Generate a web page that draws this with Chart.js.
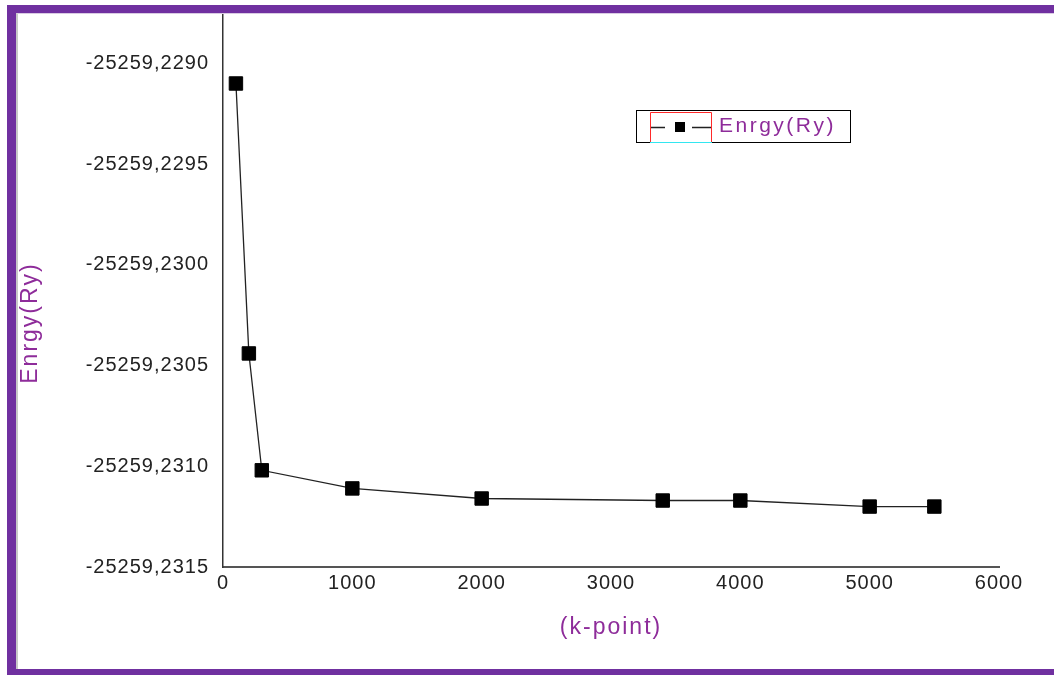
<!DOCTYPE html>
<html>
<head>
<meta charset="utf-8">
<script src="https://cdn.jsdelivr.net/npm/chart.js@4"></script>
<style>
html,body{margin:0;padding:0;background:#fff;}
#wrap{position:relative;width:1054px;height:675px;overflow:hidden;background:#fff;}
#c{position:absolute;left:0;top:0;}
.frame{position:absolute;left:7px;top:5px;width:1100px;height:670px;box-sizing:border-box;border-left:9px solid #7030a0;border-top:8px solid #7030a0;border-bottom:6px solid #7030a0;pointer-events:none;}
.inner{position:absolute;left:16px;top:13px;width:1100px;height:656px;box-sizing:border-box;border-left:2px solid #c8c8c8;border-top:1px solid #d9cbe3;pointer-events:none;}
</style>
</head>
<body>
<div id="wrap">
<canvas id="c" width="1054" height="675"></canvas>
<div class="frame"></div>
<div class="inner"></div>
</div>
<script>
// ---- data ----
const kPoints = [100, 200, 300, 1000, 2000, 3400, 4000, 5000, 5500];
const energies = [-25259.2291, -25259.23044, -25259.23102, -25259.23111, -25259.23116, -25259.23117, -25259.23117, -25259.2312, -25259.2312];
const xTicks = [0, 1000, 2000, 3000, 4000, 5000, 6000];
const yTicks = [-25259.2290, -25259.2295, -25259.2300, -25259.2305, -25259.2310, -25259.2315];
const seriesLabel = 'Enrgy(Ry)';
const xTitle = '(k-point)';
const yTitle = 'Enrgy(Ry)';

const PURPLE = '#8e2c9a';
const FONT = '"Liberation Sans", Arial, sans-serif';

const deco = {
  id: 'deco',
  beforeDraw(chart) {
    chart.ctx.letterSpacing = '1px';
  },
  afterDraw(chart) {
    const ctx = chart.ctx;
    const a = chart.chartArea;
    // axis titles
    ctx.save();
    ctx.letterSpacing = '2px';
    ctx.fillStyle = PURPLE;
    ctx.font = '23px ' + FONT;
    ctx.textAlign = 'center';
    ctx.textBaseline = 'middle';
    ctx.fillText(xTitle, (a.left + a.right) / 2, a.bottom + 61);
    ctx.translate(31, a.top + 308);
    ctx.rotate(-Math.PI / 2);
    ctx.fillText(yTitle, 0, 0);
    ctx.restore();

    // legend
    const ds = chart.data.datasets[0];
    ctx.save();
    ctx.letterSpacing = '0px';
    ctx.lineWidth = 1;
    ctx.strokeStyle = '#000';
    ctx.strokeRect(636.5, 110.5, 214, 32);
    ctx.strokeStyle = '#ff2a2a';
    ctx.beginPath();
    ctx.moveTo(650.5, 142); ctx.lineTo(650.5, 112.5); ctx.lineTo(711.5, 112.5); ctx.lineTo(711.5, 142);
    ctx.stroke();
    ctx.strokeStyle = '#33e6f0';
    ctx.beginPath(); ctx.moveTo(650, 142.5); ctx.lineTo(712, 142.5); ctx.stroke();
    ctx.strokeStyle = '#222';
    ctx.lineWidth = 1.3;
    ctx.beginPath();
    ctx.moveTo(651, 127.5); ctx.lineTo(665, 127.5);
    ctx.moveTo(692, 127.5); ctx.lineTo(711, 127.5);
    ctx.stroke();
    ctx.fillStyle = '#000';
    ctx.fillRect(675, 122, 10, 10);
    ctx.letterSpacing = '2.5px';
    ctx.fillStyle = PURPLE;
    ctx.font = '21px ' + FONT;
    ctx.textAlign = 'left';
    ctx.textBaseline = 'middle';
    ctx.fillText(ds.label, 719, 126);
    ctx.restore();
  }
};

new Chart(document.getElementById('c'), {
  type: 'line',
  data: {
    datasets: [{
      label: seriesLabel,
      data: kPoints.map((k, i) => ({ x: k, y: energies[i] })),
      borderColor: '#222',
      borderWidth: 1.3,
      tension: 0,
      pointStyle: 'rect',
      pointRadius: 9.5,
      pointBackgroundColor: '#000',
      pointBorderColor: '#000',
      pointBorderWidth: 1
    }]
  },
  options: {
    responsive: false,
    animation: false,
    layout: { padding: { left: 0, right: 55, top: 15, bottom: 0 } },
    plugins: { legend: { display: false }, tooltip: { enabled: false } },
    scales: {
      x: {
        type: 'linear',
        min: 0, max: 6000,
        afterBuildTicks(s) { s.ticks = xTicks.map(v => ({ value: v })); },
        afterFit(s) { s.height = 108; s.paddingLeft = 0; s.paddingRight = 0; },
        grid: { display: false, drawTicks: false },
        border: { display: true, color: '#555', width: 2 },
        ticks: { color: '#222', font: { family: FONT, size: 20 }, padding: 4, maxRotation: 0, autoSkip: false,
          callback: v => String(v) }
      },
      y: {
        type: 'linear',
        min: -25259.2315, max: -25259.22876,
        afterBuildTicks(s) { s.ticks = yTicks.map(v => ({ value: v })); },
        afterFit(s) { s.width = 223; s.paddingTop = 0; s.paddingBottom = 0; },
        grid: { display: false, drawTicks: false },
        border: { display: true, color: '#333', width: 1.5 },
        ticks: {
          color: '#222', font: { family: FONT, size: 20 }, padding: 14, autoSkip: false,
          callback: v => v.toFixed(4).replace('.', ',')
        }
      }
    }
  },
  plugins: [deco]
});
</script>
</body>
</html>
